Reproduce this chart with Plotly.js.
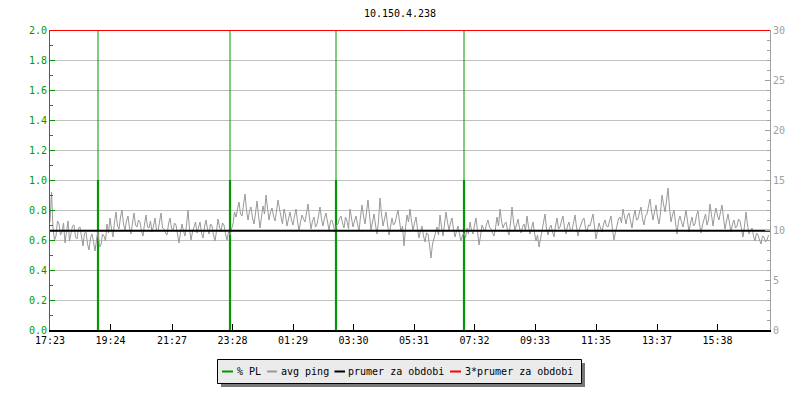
<!DOCTYPE html>
<html>
<head>
<meta charset="utf-8">
<script src="https://cdn.plot.ly/plotly-3.0.1.min.js"></script>
<style>
  html, body { margin: 0; padding: 0; background: #ffffff; }
  #chart { width: 800px; height: 400px; }
</style>
</head>
<body>
<div id="chart"></div>
<script>
// ---- DATA ----
const chartTitle = "10.150.4.238";

// x axis: minutes since 17:23
const tickPositions = [0, 121, 244, 365, 486, 607, 728, 849, 970, 1092, 1214, 1335];
const tickLabels = ["17:23", "19:24", "21:27", "23:28", "01:29", "03:30", "05:31", "07:32", "09:33", "11:35", "13:37", "15:38"];

const pingStepMinutes = 3;
// avg ping (ms), one sample every 3 minutes (one row = 1 hour)
const avgPing = [
  10.8, 13.8, 10.2, 9.0, 9.4, 10.9, 10.6, 9.5, 9.8, 10.7, 8.7, 9.6, 10.9, 8.9, 9.6, 10.4, 10.5, 9.3, 9.1, 10.2,
  10.3, 9.1, 8.4, 9.7, 9.8, 8.6, 8.0, 9.2, 9.6, 8.8, 7.9, 9.0, 9.9, 8.3, 8.5, 9.6, 9.4, 8.9, 10.6, 9.7,
  11.2, 10.1, 9.3, 10.8, 11.8, 10.4, 10.1, 11.3, 12.0, 10.6, 10.0, 10.9, 11.4, 10.2, 9.6, 10.7, 11.7, 10.5, 10.3, 11.0,
  10.8, 9.9, 9.4, 10.6, 11.5, 10.3, 10.2, 10.9, 9.8, 10.4, 11.2, 10.0, 9.9, 10.8, 11.7, 10.2, 10.1, 9.7, 9.5, 10.6,
  11.2, 10.2, 9.9, 10.7, 10.5, 9.6, 8.7, 9.8, 10.6, 9.9, 9.4, 10.5, 12.0, 10.1, 9.0, 9.8, 10.3, 10.8, 9.7, 10.4,
  10.8, 9.7, 9.2, 10.3, 11.0, 10.1, 9.6, 10.6, 10.4, 9.5, 8.9, 9.9, 11.1, 10.3, 9.8, 10.7, 10.5, 9.6, 9.0, 9.8,
  9.5, 10.1, 10.6, 11.8, 11.3, 12.1, 12.8, 11.6, 11.4, 12.5, 13.6, 12.0, 11.0, 11.9, 12.3, 11.2, 10.6, 11.7, 12.9, 11.5,
  10.2, 11.3, 12.4, 11.6, 13.5, 12.2, 11.0, 11.8, 12.2, 11.4, 10.9, 11.9, 13.0, 12.1, 11.2, 10.6, 12.1, 11.5, 10.4, 11.2,
  11.8, 11.0, 10.5, 11.4, 12.1, 10.9, 9.9, 10.8, 11.5, 11.1, 10.8, 11.7, 12.6, 11.2, 10.1, 10.9, 11.3, 10.3, 10.6, 11.4,
  12.3, 11.1, 10.4, 11.2, 11.7, 10.8, 10.0, 10.9, 11.0, 10.4, 9.8, 10.5, 10.6, 11.2, 11.4, 10.7, 10.2, 11.3, 10.9, 10.1,
  12.1, 11.2, 10.3, 10.9, 11.4, 10.6, 9.9, 11.3, 12.5, 11.4, 10.6, 11.8, 13.0, 11.5, 10.0, 10.8, 11.6, 10.5, 9.6, 10.9,
  13.2, 11.6, 10.4, 11.1, 11.8, 10.6, 9.5, 10.3, 11.2, 10.5, 10.7, 11.4, 12.0, 10.9, 9.8, 10.4, 8.4, 10.2, 11.5, 10.8,
  12.1, 10.9, 9.9, 10.7, 11.3, 10.1, 9.2, 9.9, 10.4, 9.4, 8.8, 9.7, 9.6, 8.5, 7.2, 8.6, 9.1, 9.8, 10.3, 9.5,
  11.5, 10.3, 9.4, 10.6, 11.8, 10.8, 10.0, 10.7, 11.2, 10.1, 9.3, 9.9, 10.4, 9.6, 8.9, 9.5, 9.7, 9.2, 10.2, 9.6,
  10.8, 10.0, 9.6, 10.5, 11.2, 9.9, 8.5, 9.4, 10.5, 10.1, 9.9, 10.6, 11.0, 10.3, 10.1, 9.7, 9.4, 10.2, 11.3, 10.4,
  12.1, 10.9, 10.2, 10.6, 10.8, 10.0, 9.5, 10.7, 12.3, 10.8, 10.0, 10.5, 11.1, 10.2, 9.7, 10.3, 10.6, 9.9, 11.4, 10.3,
  9.6, 10.2, 10.8, 9.7, 8.9, 9.5, 8.3, 9.1, 9.9, 10.6, 11.6, 10.1, 9.5, 10.2, 10.5, 9.8, 9.3, 10.4, 11.2, 10.1,
  10.3, 10.9, 11.4, 10.2, 9.6, 10.4, 10.8, 9.9, 10.0, 10.7, 11.5, 10.3, 9.4, 10.1, 10.6, 11.0, 11.2, 10.2, 9.8, 10.5,
  10.4, 11.1, 11.6, 10.3, 9.1, 9.9, 10.7, 10.2, 9.8, 10.6, 11.0, 10.4, 10.3, 10.9, 11.4, 10.0, 9.0, 9.8, 10.6, 11.1,
  11.3, 10.7, 12.1, 11.2, 10.6, 11.4, 11.7, 10.9, 10.2, 11.3, 12.0, 11.0, 11.1, 11.8, 12.3, 11.1, 10.5, 11.4, 11.6, 12.4,
  13.1, 11.9, 11.0, 11.8, 12.5, 11.3, 10.6, 11.7, 13.5, 12.6, 11.8, 12.9, 14.2, 12.2, 10.8, 11.5, 12.0, 10.7, 9.6, 10.9,
  11.4, 10.8, 10.3, 11.1, 12.0, 10.9, 9.8, 10.7, 11.3, 10.4, 10.6, 11.5, 11.9, 10.6, 9.7, 10.5, 11.2, 11.6, 10.5, 11.0,
  12.6, 11.3, 10.4, 11.5, 12.2, 11.4, 11.0, 11.8, 12.5, 11.2, 10.1, 10.9, 11.6, 10.7, 9.8, 10.6, 11.0, 10.2, 10.4, 11.1,
  10.9, 10.1, 9.3, 10.4, 11.8, 10.5, 9.6, 9.9, 10.2, 9.4, 8.9, 9.7, 9.5, 9.0, 8.6, 9.4, 9.3, 8.8, 9.0, 9.5
];

const periodStart = 0, periodEnd = 1440;
const prumer = 9.93;        // mean for period (ms)
const triplePrumer = 30.0;  // 3*mean line as drawn

// packet loss events (minutes since start), % PL
const plTimes = [96, 360, 572, 828];
const plLevel = [1.0, 1.0, 1.0, 1.0];
const plPeak  = [2.0, 2.0, 2.0, 2.0];

const legendNames = ["% PL", "avg ping", "prumer za obdobi", "3*prumer za obdobi"];
const colors = { pl: "#009900", ping: "#999999", mean: "#000000", triple: "#ff0000" };

// ---- BUILD ----
const pingTimes = avgPing.map((_, i) => i * pingStepMinutes);

function spikes(times, levels) {
  const xs = [], ys = [];
  times.forEach((t, i) => { xs.push(t, t, null); ys.push(0, levels[i], null); });
  return { xs, ys };
}
const plThin = spikes(plTimes, plPeak);
const plThick = spikes(plTimes, plLevel);

const mono = "DejaVu Sans Mono, Liberation Mono, monospace";

const traces = [
  { x: pingTimes, y: avgPing, yaxis: "y2", type: "scatter", mode: "lines",
    line: { color: colors.ping, width: 1 }, name: legendNames[1], showlegend: false, hoverinfo: "skip" },
  { x: [periodStart, periodEnd], y: [prumer, prumer], yaxis: "y2", type: "scatter", mode: "lines",
    line: { color: colors.mean, width: 2 }, name: legendNames[2], showlegend: false },
  { x: [periodStart, periodEnd], y: [triplePrumer, triplePrumer], yaxis: "y2", type: "scatter", mode: "lines",
    line: { color: colors.triple, width: 2 }, name: legendNames[3], showlegend: false },
  { x: plThin.xs, y: plThin.ys, yaxis: "y", type: "scatter", mode: "lines",
    line: { color: colors.pl, width: 1 }, name: legendNames[0], showlegend: false, connectgaps: false },
  { x: plThick.xs, y: plThick.ys, yaxis: "y", type: "scatter", mode: "lines",
    line: { color: colors.pl, width: 2.2 }, name: legendNames[0], showlegend: false, connectgaps: false }
];

// custom legend in pixel terms converted to paper coords
const L = 50, T = 30, W = 720, H = 300;
const fx = px => (px - L) / W;
const fy = py => (T + H - py) / H;

const shapes = [
  { type: "rect", xref: "paper", yref: "paper", x0: fx(221), x1: fx(585), y0: fy(387), y1: fy(363),
    fillcolor: "#777777", line: { width: 0 }, layer: "above" },
  { type: "rect", xref: "paper", yref: "paper", x0: fx(217.5), x1: fx(581.5), y0: fy(383.5), y1: fy(359.5),
    fillcolor: "#ebebeb", line: { color: "#000000", width: 1 }, layer: "above" }
];
const legendItems = [
  { c: colors.pl, l0: 222, l1: 233, tx: 236.5 },
  { c: colors.ping, l0: 267, l1: 277, tx: 280.5 },
  { c: colors.mean, l0: 334.5, l1: 345, tx: 348 },
  { c: colors.triple, l0: 450, l1: 461, tx: 464.5 }
];
const annotations = [];
legendItems.forEach((it, i) => {
  shapes.push({ type: "line", xref: "paper", yref: "paper", x0: fx(it.l0), x1: fx(it.l1), y0: fy(371.5), y1: fy(371.5),
    line: { color: it.c, width: 2 }, layer: "above" });
  annotations.push({ xref: "paper", yref: "paper", x: fx(it.tx), y: fy(371), xanchor: "left", yanchor: "middle",
    text: legendNames[i], showarrow: false, font: { family: mono, size: 10, color: "#000000" }, xshift: -2 });
});

const layout = {
  width: 800, height: 400, autosize: false,
  margin: { l: L, r: 800 - L - W, t: T, b: 400 - T - H, pad: 0 },
  paper_bgcolor: "#ffffff", plot_bgcolor: "#ffffff",
  showlegend: false,
  title: { text: chartTitle, x: 0.5, xanchor: "center", y: 1 - 13 / 400, yanchor: "middle", yref: "container",
    font: { family: mono, size: 10, color: "#000000" } },
  xaxis: { range: [periodStart, periodEnd], showgrid: false, zeroline: false,
    showline: true, linecolor: "#000000", linewidth: 1.5,
    ticks: "inside", ticklen: 6, tickcolor: "#000000", tickwidth: 1,
    tickmode: "array", tickvals: tickPositions, ticktext: tickLabels,
    tickfont: { family: mono, size: 10, color: "#000000" }, fixedrange: true },
  yaxis: { range: [0, 2], dtick: 0.2, tick0: 0, tickformat: ".1f", showgrid: true, gridcolor: "#c0c0c0", gridwidth: 1,
    zeroline: false, showline: true, linecolor: colors.pl, linewidth: 1,
    ticks: "inside", ticklen: 5, tickcolor: colors.pl,
    minor: { dtick: 0.1, ticks: "inside", ticklen: 3, tickcolor: colors.pl, showgrid: false },
    tickfont: { family: mono, size: 10, color: colors.pl }, fixedrange: true },
  yaxis2: { range: [0, 30], dtick: 5, tick0: 0, overlaying: "y", side: "right", showgrid: false, zeroline: false,
    showline: true, linecolor: "#a0a0a0", linewidth: 1,
    ticks: "inside", ticklen: 5, tickcolor: "#a0a0a0",
    minor: { dtick: 1, ticks: "inside", ticklen: 3, tickcolor: "#a0a0a0", showgrid: false },
    tickfont: { family: mono, size: 10, color: "#a0a0a0" }, fixedrange: true },
  shapes: shapes,
  annotations: annotations
};

Plotly.newPlot("chart", traces, layout, { staticPlot: true, displayModeBar: false });
</script>
</body>
</html>
